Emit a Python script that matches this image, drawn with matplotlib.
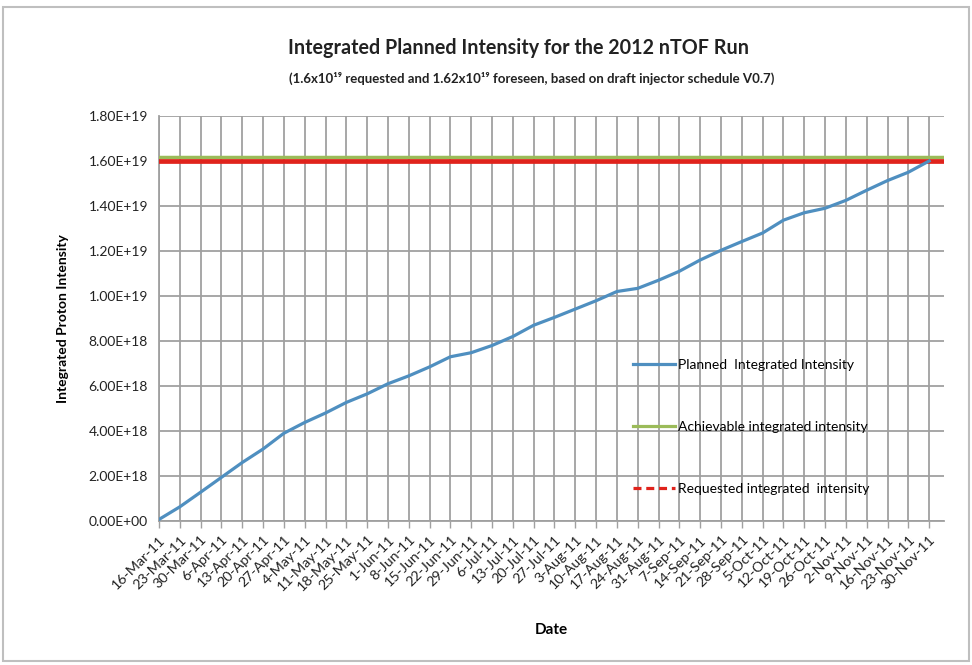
import numpy as np
import matplotlib
matplotlib.use("Agg")
import matplotlib.pyplot as plt
from matplotlib.lines import Line2D
from matplotlib.ticker import FuncFormatter, MultipleLocator

plt.rcParams["font.family"] = ["Lato", "DejaVu Sans"]

# weekly tick labels (data read at each tick)
dates = ["16-Mar-11", "23-Mar-11", "30-Mar-11", "6-Apr-11", "13-Apr-11", "20-Apr-11",
         "27-Apr-11", "4-May-11", "11-May-11", "18-May-11", "25-May-11", "1-Jun-11",
         "8-Jun-11", "15-Jun-11", "22-Jun-11", "29-Jun-11", "6-Jul-11", "13-Jul-11",
         "20-Jul-11", "27-Jul-11", "3-Aug-11", "10-Aug-11", "17-Aug-11", "24-Aug-11",
         "31-Aug-11", "7-Sep-11", "14-Sep-11", "21-Sep-11", "28-Sep-11", "5-Oct-11",
         "12-Oct-11", "19-Oct-11", "26-Oct-11", "2-Nov-11", "9-Nov-11", "16-Nov-11",
         "23-Nov-11", "30-Nov-11"]

# planned integrated intensity (units of 1e18 protons)
planned = [0.07, 0.63, 1.28, 1.94, 2.60, 3.20, 3.90, 4.38, 4.80, 5.27, 5.65, 6.10,
           6.45, 6.85, 7.30, 7.48, 7.80, 8.20, 8.70, 9.05, 9.42, 9.79, 10.20, 10.34,
           10.70, 11.10, 11.60, 12.03, 12.42, 12.80, 13.37, 13.70, 13.90, 14.25,
           14.70, 15.13, 15.50, 16.00]

achievable = 16.2   # 1.62e19
requested = 16.0    # 1.6e19

BLUE = "#4F8FC0"
GREEN = "#9BBB59"
RED = "#E0231C"
GRID = "#A0A0A0"
TXT = "#222222"

fig = plt.figure(figsize=(9.72, 6.65), dpi=100)
ax = fig.add_axes([159 / 972, 1 - 521 / 665, (944 - 159) / 972, (521 - 116) / 665])

x = np.arange(len(dates)) * 7
y = np.array(planned) * 1e18

ax.plot([0, 264], [achievable * 1e18] * 2, color=GREEN, lw=2.5, zorder=3)
ax.plot([0, 264], [requested * 1e18] * 2, color=RED, lw=3.4, zorder=4)
ax.plot(x, y, color=BLUE, lw=2.3, zorder=5)

ax.set_xlim(0, 264)
ax.set_ylim(0, 1.8e19)
ax.set_xticks(x)
ax.set_xticklabels(dates, rotation=45, ha="right", rotation_mode="anchor",
                   fontsize=10.3, color=TXT)
ax.yaxis.set_major_locator(MultipleLocator(2e18))
ax.yaxis.set_major_formatter(FuncFormatter(lambda v, p: f"{v:.2E}"))
ax.tick_params(axis="y", length=0, labelsize=10, colors=TXT, pad=8)
ax.tick_params(axis="x", length=5, width=1, color=GRID, pad=4)

ax.grid(True, color=GRID, lw=1.3)
ax.set_axisbelow(True)
for s in ["top", "right"]:
    ax.spines[s].set_visible(False)
for s in ["left", "bottom"]:
    ax.spines[s].set_color(GRID)
    ax.spines[s].set_linewidth(1.3)

ax.set_xlabel("Date", fontsize=11, fontweight="bold", labelpad=22)
ax.set_ylabel("Integrated Proton Intensity", fontsize=10, fontweight="bold", labelpad=14)

handles = [
    Line2D([0], [0], color=BLUE, lw=2.3, label="Planned  Integrated Intensity"),
    Line2D([0], [0], color=GREEN, lw=2.3, label="Achievable integrated intensity"),
    Line2D([0], [0], color=RED, lw=2.3, ls=(0, (2.5, 1.5)), label="Requested integrated  intensity"),
]
ax.legend(handles=handles, loc="upper left", bbox_to_anchor=(0.588, 0.43),
          frameon=False, fontsize=10, labelspacing=3.6, handlelength=3.0,
          handletextpad=0.2)

fig.text(518 / 972, 1 - 48 / 665, "Integrated Planned Intensity for the 2012 nTOF Run",
         ha="center", va="center", fontsize=14.2, fontweight="bold", color=TXT)
fig.text(532 / 972, 1 - 78 / 665,
         "(1.6x10\u00b9\u2079 requested and 1.62x10\u00b9\u2079 foreseen, based on draft injector schedule V0.7)",
         ha="center", va="center", fontsize=9.5, fontweight="bold", color=TXT)

# chart area border
fig.patches.append(plt.Rectangle((3 / 972, 4 / 665), 966 / 972, 654 / 665,
                                 transform=fig.transFigure, fill=False,
                                 edgecolor="#BFBFBF", lw=1.5))

fig.savefig("out.png", dpi=100)
